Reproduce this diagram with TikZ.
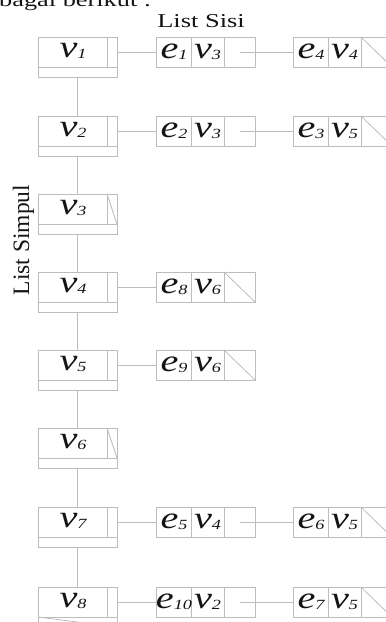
\documentclass[tikz,border=0pt]{standalone}
\usepackage{fontspec}
\setmainfont{Liberation Serif}
\usepackage{graphicx}
\definecolor{lg}{HTML}{BDBDBD}
\definecolor{tx}{HTML}{141414}
\newcommand{\lbl}[2]{\scalebox{1.3}[1]{\fontsize{31}{31}\selectfont\itshape #1\raisebox{-1pt}{\fontsize{14}{14}\selectfont #2}}}
\begin{document}
\begin{tikzpicture}[x=1pt,y=-1pt,
  ln/.style={draw=lg,line width=0.8pt},
  vbox/.style={ln,rectangle,anchor=north west,minimum width=79pt,minimum height=40pt,inner sep=0pt,outer sep=0pt},
  ebox/.style={ln,rectangle,anchor=north west,minimum width=99pt,minimum height=30pt,inner sep=0pt,outer sep=0pt},
  lab/.style={anchor=base,inner sep=0pt,text=tx},
  txt/.style={inner sep=0pt,text=tx}]
\useasboundingbox (0,0) rectangle (386,622);
\clip (0,0) rectangle (386,622);
% vertex boxes
\foreach \i/\t in {1/37,2/116,3/194,4/272,5/350,6/428,7/507,8/587} {
  \node[vbox] (V\i) at (38,\t) {};
  \draw[ln] ([yshift=-30pt]V\i.north west) -- ([yshift=-30pt]V\i.north east);
  \draw[ln] ([xshift=-10pt]V\i.north east) -- ([xshift=-10pt,yshift=-30pt]V\i.north east);
  \node[lab] (L\i) at (73,\t+20) {\lbl{v}{\i}};
}
% null markers of vertices
\draw[ln] ([xshift=-10pt]V3.north east) -- ([yshift=-30pt]V3.north east);
\draw[ln] ([xshift=-10pt]V6.north east) -- ([yshift=-30pt]V6.north east);
\draw[ln] ([yshift=-30pt]V8.north west) -- (V8.south east);
% vertical list connectors
\foreach \a/\b in {1/2,2/3,3/4,4/5,5/6,6/7,7/8}
  \draw[ln] (V\a.south) -- (V\b.north);
% edge boxes
\foreach \n/\x/\t/\es/\vs/\nul in {E1a/156/37/1/3/0, E1b/293/37/4/4/1,
    E2a/156/116/2/3/0, E2b/293/116/3/5/1,
    E4a/156/272/8/6/1, E5a/156/350/9/6/1,
    E7a/156/507/5/4/0, E7b/293/507/6/5/1,
    E8a/156/587/10/2/0, E8b/293/587/7/5/1} {
  \node[ebox] (\n) at (\x,\t) {};
  \draw[ln] (\x+35,\t) -- (\x+35,\t+30);
  \draw[ln] (\x+68,\t) -- (\x+68,\t+30);
  \node[lab] (\n e) at (\x+18,\t+21) {\lbl{e}{\es}};
  \node[lab] (\n v) at (\x+51.5,\t+21) {\lbl{v}{\vs}};
  \ifnum\nul=1 \draw[ln] (\x+68,\t) -- (\x+99,\t+30); \fi
}
% vertex to edge connectors
\foreach \i/\n in {1/E1a,2/E2a,4/E4a,5/E5a,7/E7a,8/E8a}
  \draw[ln] ([yshift=-15pt]V\i.north east) -- (\n.west);
% edge to edge connectors
\foreach \a/\b in {E1a/E1b,E2a/E2b,E7a/E7b,E8a/E8b}
  \draw[ln] ([xshift=-15pt]\a.east) -- (\b.west);
% texts
\node[txt,anchor=base west] (top) at (-1,6.5) {\scalebox{1.35}[1]{\fontsize{19.5}{19.5}\selectfont bagai berikut :}};
\node[txt,anchor=base] (ls) at (201,27) {\scalebox{1.35}[1]{\fontsize{19.6}{19.6}\selectfont List Sisi}};
\node[txt,anchor=base,rotate=90] (lv) at (29,240) {\fontsize{23.5}{23.5}\selectfont List Simpul};
\end{tikzpicture}
\end{document}
